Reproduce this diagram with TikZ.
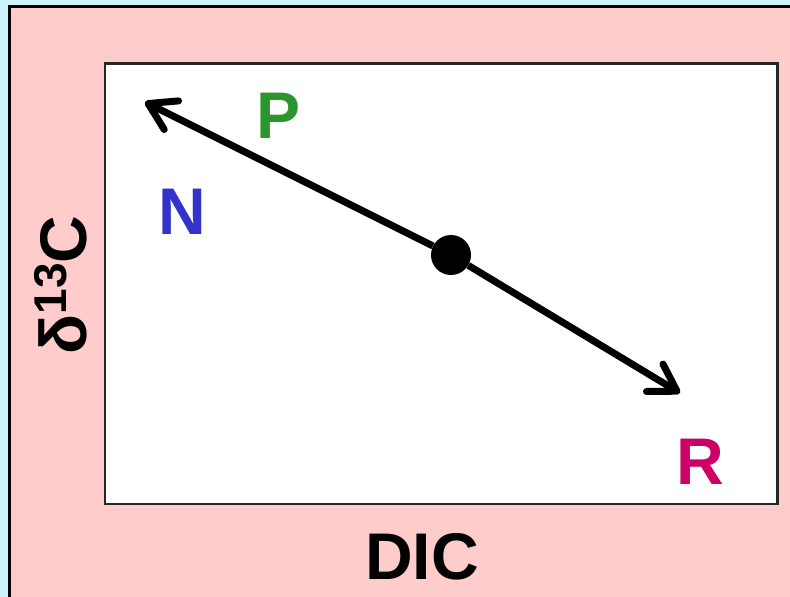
\documentclass[tikz,border=0pt]{standalone}
\usepackage{fontspec}
\setmainfont{Liberation Sans}
\usetikzlibrary{positioning, arrows.meta}

\definecolor{skyback}{RGB}{204,242,255}
\definecolor{pinkback}{RGB}{255,204,204}
\definecolor{pgreen}{RGB}{44,150,44}
\definecolor{nblue}{RGB}{51,51,204}
\definecolor{rmagenta}{RGB}{204,0,102}

\begin{document}
\begin{tikzpicture}[
    x=1pt, y=-1pt,
    lbl/.style={
        font=\fontsize{66}{66}\selectfont\bfseries,
        inner sep=0pt
    },
    arrow/.style={-{Straight Barb[length=26pt, width=32pt, round]}, line width=7pt},
    dot/.style={circle, fill=black, minimum size=40pt, inner sep=0pt}
]

\useasboundingbox (0,0) rectangle (790,597);
\fill[skyback] (0,0) rectangle (790,597);
\filldraw[fill=pinkback, draw=black, line width=3pt] (9.5,6.5) rectangle (810,620);
\filldraw[fill=white, draw=black!85, line width=2.5pt] (105,63.5) rectangle (777.5,504);

\node[dot] (mid) at (451,255) {};
\coordinate (upper) at (145,102);
\coordinate (lower) at (680,393);

\draw[arrow] (mid) -- (upper);
\draw[arrow] (mid) -- (lower);

\node[lbl, text=pgreen] (plabel) at (279,116) {P};
\node[lbl, text=nblue] (nlabel) at (182,212) {N};
\node[lbl, text=rmagenta] (rlabel) at (700,462) {R};
\node[lbl] (xlabel) at (422,557) {DIC};
\node[lbl, rotate=90] (ylabel) at (61,285)
    {δ\raisebox{0.3em}{\fontsize{46}{46}\selectfont 13}C};

\end{tikzpicture}
\end{document}
